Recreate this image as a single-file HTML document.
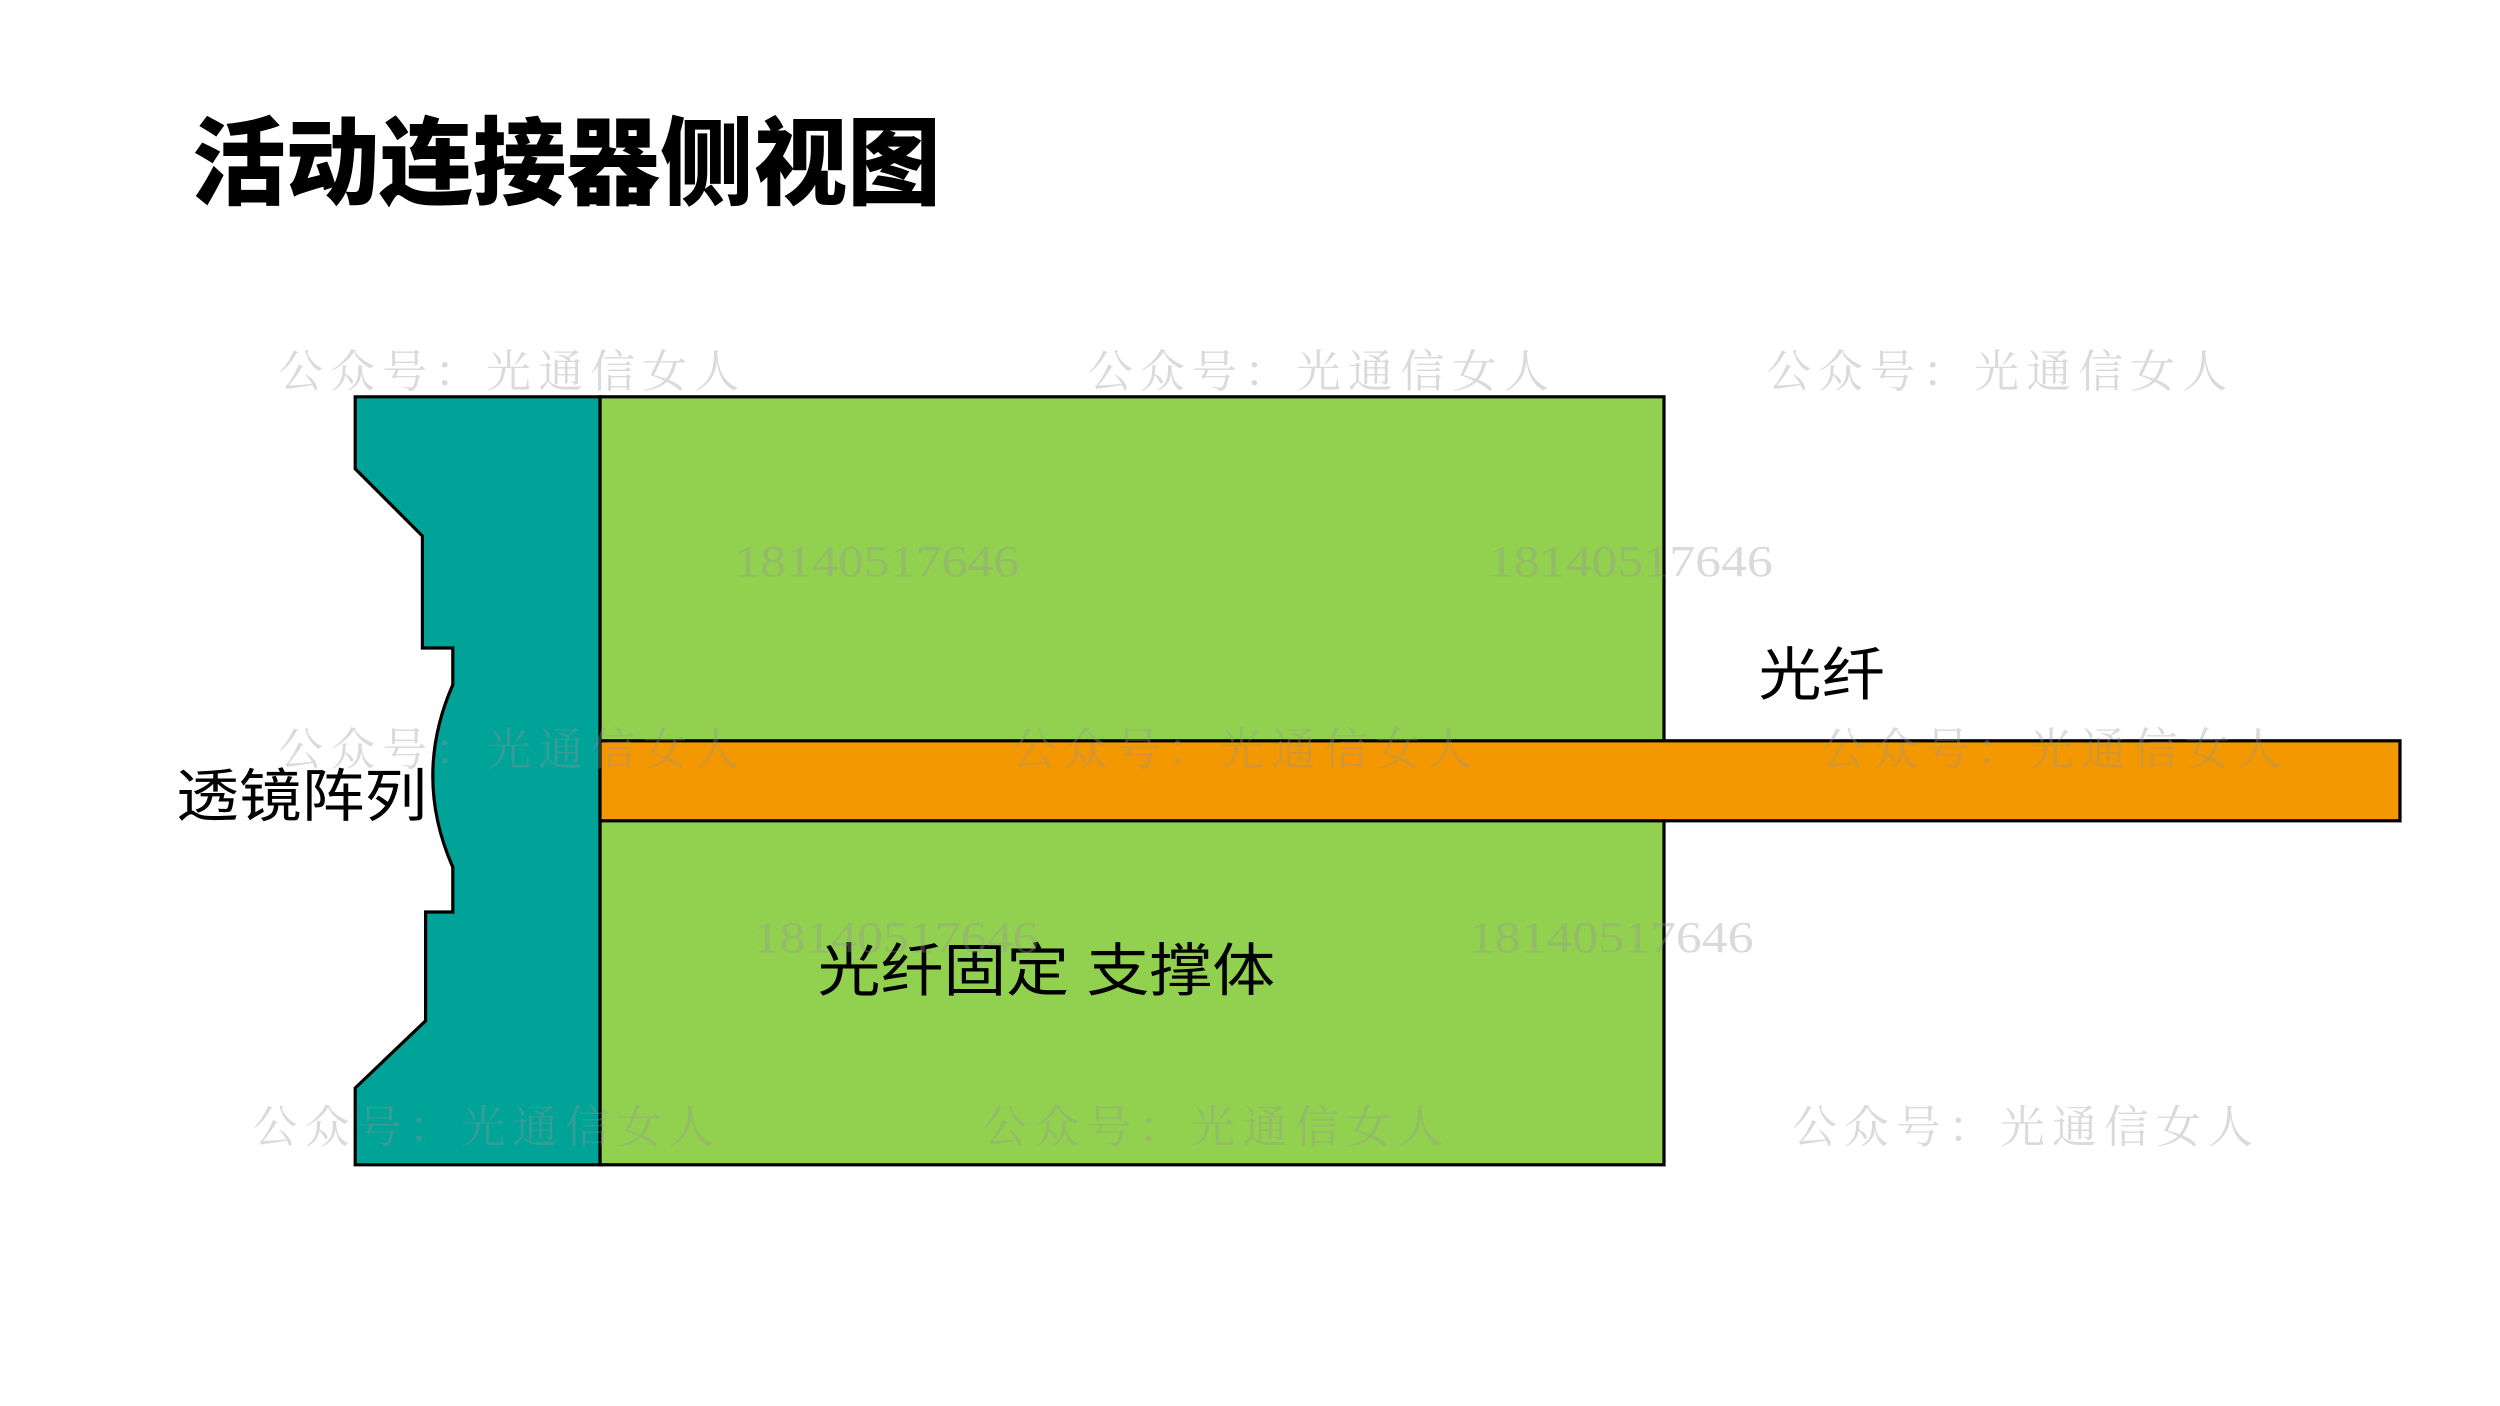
<!DOCTYPE html>
<html><head><meta charset="utf-8"><style>
html,body{margin:0;padding:0;background:#fff;width:2500px;height:1406px;overflow:hidden}
svg{display:block}
</style></head><body>
<svg width="2500" height="1406" viewBox="0 0 1562.5 878.75" xmlns="http://www.w3.org/2000/svg">
<text x="120" y="123" font-family="'Liberation Sans','Noto Sans CJK SC',sans-serif" font-weight="900" font-size="60" fill="#000" textLength="468" lengthAdjust="spacingAndGlyphs">活动连接器侧视图</text>
<rect x="375" y="248" width="665" height="480" fill="#92d050" stroke="#000" stroke-width="2"/>
<path d="M222,248 L375,248 L375,728 L222,728 L222,680 L266,638 L266,570 L283,570 L283,542 Q258,485 283,428 L283,405 L264,405 L264,335 L222,293 Z" fill="#00a397" stroke="#000" stroke-width="2"/>
<rect x="375" y="463" width="1125" height="50" fill="#f39800" stroke="#000" stroke-width="2"/>
<g font-family="'Liberation Sans','Noto Sans CJK SC',sans-serif" font-size="36" fill="#000">
<text x="110" y="510" textLength="157" lengthAdjust="spacingAndGlyphs">透镜阵列</text>
<text x="1099" y="434" textLength="79" lengthAdjust="spacingAndGlyphs">光纤</text>
<text x="511" y="619" textLength="286" lengthAdjust="spacingAndGlyphs">光纤固定 支撑体</text>
</g>
<g font-family="'Liberation Serif','Noto Serif CJK SC',serif" font-size="28" fill="rgba(150,150,150,0.35)">
<text x="174" y="242" textLength="288">公众号：光通信女人</text>
<text x="680" y="242" textLength="288">公众号：光通信女人</text>
<text x="1104" y="242" textLength="288">公众号：光通信女人</text>
<text x="174" y="478" textLength="288">公众号：光通信女人</text>
<text x="632" y="478" textLength="288">公众号：光通信女人</text>
<text x="1138" y="478" textLength="288">公众号：光通信女人</text>
<text x="158" y="714" textLength="288">公众号：光通信女人</text>
<text x="614" y="714" textLength="288">公众号：光通信女人</text>
<text x="1120" y="714" textLength="288">公众号：光通信女人</text>
<text x="459" y="360" textLength="178" lengthAdjust="spacingAndGlyphs">18140517646</text>
<text x="930" y="360" textLength="178" lengthAdjust="spacingAndGlyphs">18140517646</text>
<text x="471" y="595" textLength="178" lengthAdjust="spacingAndGlyphs">18140517646</text>
<text x="918" y="595" textLength="178" lengthAdjust="spacingAndGlyphs">18140517646</text>
</g>
</svg>
</body></html>
